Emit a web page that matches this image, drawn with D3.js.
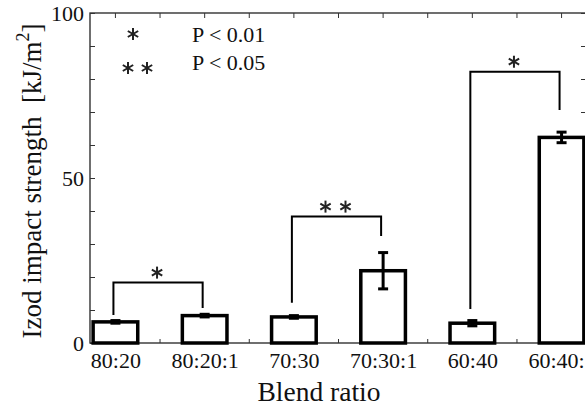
<!DOCTYPE html>
<html>
<head>
<meta charset="utf-8">
<script src="https://cdn.jsdelivr.net/npm/d3@7"></script>
<style>
  body { margin: 0; background: #fff; }
</style>
</head>
<body>
<div id="chart"></div>
<script>
let height = 409,
    width = 585,
    margin = ({ top: 13, right: -2, bottom: 66, left: 90 });

const serif = "'Liberation Serif', 'Times New Roman', Times, serif";

// data
const categories = ["80:20", "80:20:1", "70:30", "70:30:1", "60:40", "60:40:1"];
const means = [6.4, 8.3, 7.9, 21.9, 6.0, 62.3];
const errors = [0.4, 0.4, 0.4, 5.5, 0.8, 1.6];
// brackets: from, to, level, left leg end, right leg end, label
const brackets = [
  { a: "80:20", b: "80:20:1", level: 18.3, endA: 8.5, endB: 10.6, label: "*" },
  { a: "70:30", b: "70:30:1", level: 38.3, endA: 12.2, endB: 32.4, label: "**" },
  { a: "60:40", b: "60:40:1", level: 82.2, endA: 10.3, endB: 70.6, label: "*" }
];
const yTicks = [0, 50, 100];

const svg = d3.select("#chart")
    .append("svg")
    .attr("width", width)
    .attr("height", height)
    .style("font-family", serif);

let x = d3.scalePoint()
    .domain(categories)
    .range([margin.left, width - margin.right])
    .padding(0.285);

let y = d3.scaleLinear()
    .domain([0, 100])
    .range([height - margin.bottom, margin.top]);

const step = x.step();
const barW = step / 2;
const mids = categories.slice(0, -1).map(c => x(c) + step / 2);

// frame
svg.append("rect")
  .attr("x", margin.left)
  .attr("y", margin.top)
  .attr("width", width - margin.right - margin.left)
  .attr("height", height - margin.bottom - margin.top)
  .attr("fill", "none")
  .attr("stroke", "#222")
  .attr("stroke-width", 1.3);

// left axis
const yAxis = svg.append("g")
  .attr("transform", `translate(${margin.left},0)`)
  .call(d3.axisLeft(y).tickValues(yTicks).tickSize(0).tickPadding(6));
yAxis.attr("font-family", serif);
yAxis.select(".domain").remove();
yAxis.selectAll("text").attr("font-size", 22).attr("fill", "#111");

svg.append("g")
  .attr("transform", `translate(${margin.left},0)`)
  .call(g => g.call(d3.axisRight(y).ticks(10).tickSize(5).tickFormat("")))
  .call(g => g.select(".domain").remove())
  .selectAll("line").attr("stroke", "#333");

svg.append("g")
  .attr("transform", `translate(${width - margin.right},0)`)
  .call(g => g.call(d3.axisLeft(y).ticks(10).tickSize(6).tickFormat("")))
  .call(g => g.select(".domain").remove())
  .selectAll("line").attr("stroke", "#333");

// top axis ticks
svg.append("g")
  .selectAll("line")
  .data(categories.map(c => x(c)).concat(mids))
  .join("line")
  .attr("x1", d => d).attr("x2", d => d)
  .attr("y1", margin.top).attr("y2", margin.top + 5)
  .attr("stroke", "#333");

// bottom axis
const xAxis = svg.append("g")
  .attr("transform", `translate(0,${height - margin.bottom})`)
  .call(d3.axisBottom(x).tickSize(0).tickPadding(0));
xAxis.attr("font-family", serif);
xAxis.select(".domain").remove();
xAxis.selectAll("text").attr("font-size", 22).attr("dy", null).attr("y", 25).attr("fill", "#111");

svg.append("g")
  .selectAll("line")
  .data(mids)
  .join("line")
  .attr("x1", d => d).attr("x2", d => d)
  .attr("y1", y(0)).attr("y2", y(0) - 4)
  .attr("stroke", "#333");

// bars
svg.append("g")
  .selectAll("rect")
  .data(categories)
  .join("rect")
  .attr("x", d => x(d) - barW / 2)
  .attr("width", barW)
  .attr("y", (d, i) => y(means[i]))
  .attr("height", (d, i) => y(0) - y(means[i]))
  .attr("fill", "#fff")
  .attr("stroke", "#000")
  .attr("stroke-width", 3.5);

// error bars
const eb = svg.append("g").attr("stroke", "#000").attr("stroke-width", 3);
eb.selectAll(".v")
  .data(categories)
  .join("line")
  .attr("x1", d => x(d)).attr("x2", d => x(d))
  .attr("y1", (d, i) => y(means[i] - errors[i]))
  .attr("y2", (d, i) => y(means[i] + errors[i]));
[-1, 1].forEach(s => {
  eb.append("g")
    .selectAll("line")
    .data(categories)
    .join("line")
    .attr("x1", d => x(d) - 5).attr("x2", d => x(d) + 5)
    .attr("y1", (d, i) => y(means[i] + s * errors[i]))
    .attr("y2", (d, i) => y(means[i] + s * errors[i]));
});

// asterisk drawn as a star of three strokes
function star(g, cx, cy, r) {
  for (let k = 0; k < 3; k++) {
    const a = Math.PI / 2 + k * Math.PI / 3;
    g.append("line")
      .attr("x1", cx - r * Math.cos(a)).attr("y1", cy - r * Math.sin(a))
      .attr("x2", cx + r * Math.cos(a)).attr("y2", cy + r * Math.sin(a))
      .attr("stroke", "#222").attr("stroke-width", 2);
  }
}

// significance brackets
const br = svg.append("g");
br.selectAll("path")
  .data(brackets)
  .join("path")
  .attr("d", d => `M${x(d.a) - 2},${y(d.endA)}V${y(d.level)}H${x(d.b) - 2}V${y(d.endB)}`)
  .attr("fill", "none")
  .attr("stroke", "#000")
  .attr("stroke-width", 2);
brackets.forEach(d => {
  const cx = (x(d.a) + x(d.b)) / 2 - 3, cy = y(d.level) - 10;
  if (d.label === "*") star(br, cx, cy, 6);
  else { star(br, cx - 10, cy, 6); star(br, cx + 10, cy, 6); }
});

// legend
const legend = svg.append("g");
star(legend, 133, 34, 6);
star(legend, 128, 68, 6);
star(legend, 147, 68, 6);
legend.append("text").attr("x", 192).attr("y", 42).attr("font-size", 22).attr("fill", "#111").text("P < 0.01");
legend.append("text").attr("x", 192).attr("y", 70).attr("font-size", 22).attr("fill", "#111").text("P < 0.05");

// axis titles
svg.append("text")
  .attr("transform", `translate(41,181) rotate(-90)`)
  .attr("text-anchor", "middle")
  .attr("font-size", 27)
  .attr("fill", "#111")
  .html('Izod impact strength&#160;&#160;[kJ/m<tspan dy="-12" font-size="18">2</tspan><tspan dy="12">]</tspan>');

svg.append("text")
  .attr("x", 319)
  .attr("y", 401)
  .attr("text-anchor", "middle")
  .attr("font-size", 27.5)
  .attr("fill", "#111")
  .text("Blend ratio");
</script>
</body>
</html>
